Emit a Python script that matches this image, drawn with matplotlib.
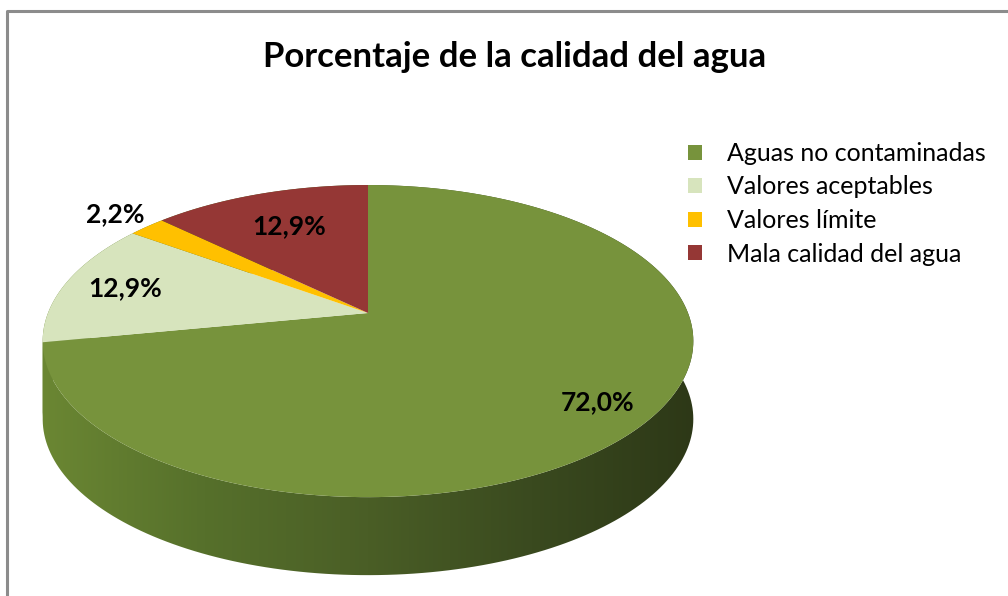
import numpy as np
import matplotlib.pyplot as plt
from matplotlib.patches import Polygon, Patch
from matplotlib.colors import LinearSegmentedColormap

# data
categories = ['Aguas no contaminadas', 'Valores aceptables', 'Valores límite', 'Mala calidad del agua']
values = [72.0, 12.9, 2.2, 12.9]
colors = ['#77933C', '#D7E4BD', '#FFC000', '#953735']

plt.rcParams['font.family'] = ['Lato', 'DejaVu Sans']

# 3D-pie geometry in pixels (apex, half axes, perspective, thickness)
cx, cy = 368, 313
A, B, p = 320, 151, 0.18
depth = 78
label_r = [0.84, 0.8, 1.16, 0.7]


def project(phi, r=1.0):
    u = r * np.sin(phi)
    v = -r * np.cos(phi)
    d = 1 - p * v
    return cx + A * u / d, cy + B * v / d


fig = plt.figure(figsize=(10.08, 5.96), dpi=100)
ax = fig.add_axes([0, 0, 1, 1])
ax.set_xlim(0, 1008)
ax.set_ylim(596, 0)
ax.axis('off')

# chart frame
ax.plot([7, 7, 1010], [600, 11, 11], color='#8c8c8c', lw=2.2, solid_capstyle='butt')

total = sum(values)
bounds = np.cumsum([0] + values) / total * 2 * np.pi

side_cmap = LinearSegmentedColormap.from_list(
    'side', ['#6B8733', '#56702B', '#4A5E26', '#3A4A1F', '#2D3817'])

# side walls (green last, it is the only one seen from the front)
order = list(range(1, len(values))) + [0]
for i in order:
    t = np.linspace(bounds[i], bounds[i + 1], 200)
    x, y = project(t)
    pts = np.column_stack([np.r_[x, x[::-1]], np.r_[y, y[::-1] + depth]])
    poly = Polygon(pts, closed=True, facecolor='none', edgecolor='none')
    ax.add_patch(poly)
    grad = np.linspace(0, 1, 256).reshape(1, -1)
    im = ax.imshow(grad, cmap=side_cmap, aspect='auto',
                   extent=[40, 696, 600, 150], zorder=1)
    im.set_clip_path(poly)

# top faces
for i in range(len(values)):
    t = np.linspace(bounds[i], bounds[i + 1], 200)
    x, y = project(t)
    pts = np.column_stack([np.r_[cx, x], np.r_[cy, y]])
    ax.add_patch(Polygon(pts, closed=True, facecolor=colors[i],
                         edgecolor='none', zorder=2))

# data labels
for i, v in enumerate(values):
    mid = (bounds[i] + bounds[i + 1]) / 2
    lx, ly = project(mid, label_r[i])
    ax.text(lx, ly, f'{v:.1f}%'.replace('.', ','), ha='center', va='center',
            fontsize=19, fontweight='bold', color='black', zorder=3)

ax.text(515, 57, 'Porcentaje de la calidad del agua', ha='center', va='center',
        fontsize=25, fontweight='bold', color='black')

handles = [Patch(facecolor=c, edgecolor='none') for c in colors]
ax.legend(handles, categories, loc='upper left', bbox_to_anchor=(688 / 1008, 1 - 142 / 596),
          frameon=False, fontsize=18, handlelength=0.55, handleheight=0.55,
          handletextpad=1.0, labelspacing=0.42, borderpad=0, borderaxespad=0)

fig.savefig('out.png', dpi=100)
